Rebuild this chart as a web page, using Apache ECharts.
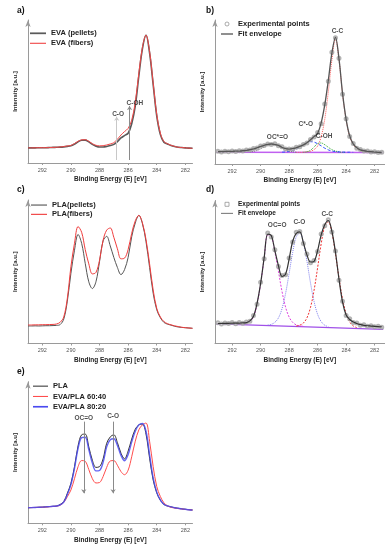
<!DOCTYPE html>
<html><head><meta charset="utf-8">
<script src="https://cdn.jsdelivr.net/npm/echarts@6/dist/echarts.min.js"></script>
<style>html,body{margin:0;padding:0;background:#fff}#c{width:388px;height:550px}</style>
</head><body><div id="c"></div>
<script>
// ---------- DATA (binding energy in eV, intensity in a.u. scaled 0-100) ----------
function eRange(hi, lo){ const o=[]; for(let e=hi; e>=lo-1e-9; e-=0.25) o.push(Math.round(e*100)/100); return o; }
const E_ALL = eRange(293, 281.5);               // 293 ... 281.5 step 0.25
const tickValues = [282, 284, 286, 288, 290, 292];

// a) EVA
const evaPellets = [10.6,10.6,10.6,10.7,10.7, 10.7,10.8,10.9,11.0,11.1, 11.3,11.6,12.0,13.2,14.8, 15.9,16.0,14.8,13.0,11.8, 11.2,11.2,11.6,12.2,13.0, 15.0,17.5,19.2,20.8,27.5, 40,61,80,89.5,77, 55,33,20,14.5,13.3, 12.2,11.5,11.0,10.8,10.6, 10.4,10.3];
const evaFibers  = [10.6,10.6,10.6,10.7,10.7, 10.7,10.8,10.9,11.0,11.2, 11.5,11.9,12.3,13.6,15.2, 16.2,16.3,15.2,13.5,12.4, 12.0,12.1,12.6,13.3,14.2, 16.6,19.6,22.0,24.2,30.0, 42.5,63,81,89.5,78, 56,34,21,15,13.5, 12.4,11.6,11.0,10.8,10.6, 10.4,10.3];
const aMarkE = [286.8, 285.9];            // C-O, C-OH guide lines
const aMarkTop = [32.4, 39.9];
const aLabels = [['C-O', 286.7, 34], ['C-OH', 285.53, 41.7]];

// b) EVA fit
const bPoints   = [8.9,8.4,8.8,8.5,9.0, 8.7,9.2,9.0,9.7,9.8, 10.8,11.1,12.5,12.8,13.9, 13.6,14.0,12.6,11.9,10.4, 10.5,10.4,11.6,12.0,13.6, 14.5,17.1,18.7,21.8,28.0, 41.6,57.4,77.6,87.6,73.5, 48.4,31.5,19.1,14.3,11.0, 10.0,9.0,9.0,8.3,8.5, 7.9,8.2];
const bEnvelope = [8.6,8.6,8.7,8.7,8.8, 8.9,9.0,9.2,9.5,9.9, 10.5,11.3,12.2,13.0,13.6, 13.9,13.7,12.9,11.6,10.6, 10.3,10.6,11.3,12.2,13.3, 14.8,16.8,19.0,21.3,28.5, 41,58,77,88,73, 49,31,19.5,14,11.3, 9.8,9.2,8.8,8.5,8.3, 8.1,8.0];
const bCC_E = eRange(287.5, 282.5);
const bCC   = [8.1,8.1,8.2,8.4,8.8, 10.0,12.5,19,31,50, 72,87,72.5,48.5,30.5, 19,13.5,10.8,9.3,8.6, 8.2];
const bCOH_E = eRange(287, 284);
const bCOH   = [8.2,8.5,9.5,11.8,14.2, 14.6,13.4,11.6,10.0,9.0, 8.4,8.1,8.1];
const bCO_E = eRange(288.5, 283.5);
const bCO   = [8.2,8.4,8.7,9.3,10.4, 11.8,13.4,14.8,15.5,15.2, 14.1,12.6,11.0,9.8,9.0, 8.6,8.4,8.3,8.2,8.2, 8.1];
const bOCO_E = eRange(290.75, 287.5);
const bOCO   = [8.3,8.7,9.4,10.5,11.8, 13.0,13.6,13.3,12.3,11.0, 9.8,9.0,8.5,8.2];
const bBaseE = [293.1, 281.4];
const bBase  = [8.2, 8.0];
const bLabels = [['C-C', 284.61, 92.4], ['C*-O', 286.83, 27.8], ['C-OH', 285.54, 19.4], ['OC*=O', 288.82, 18.5]];

// c) PLA
const plaPellets = [12.2,12.2,12.3,12.2,12.3, 12.4,12.4,12.5,12.6,13.2, 17,29.5,48.9,65,76, 69.8,55.9,43,38.3,43, 57,71.5,74.7,68,60, 53,48,51.5,60,74.4, 84,89.3,83.5,71,53, 35,23.5,18,14.7,13.5, 12.8,12.0,11.5,11.2,11.0, 10.8,10.6];
const plaFibers  = [12.9,12.9,13.0,13.0,13.1, 13.1,13.2,13.3,13.6,14.8, 18.5,31.5,53.5,69.8,81.5, 77.5,65.5,55.5,48.5,49.5, 58,72,79,80.5,74, 66,59,59.5,65.5,76.8, 85.5,89.3,84,72.5,55.5, 37.3,24.5,18.5,15.3,13.8, 13,12.3,11.8,11.3,11, 10.8,10.6];

// d) PLA fit
const dPoints   = [14.5,13.6,14.4,13.9,14.6, 13.8,14.7,14.1,15.0,15.5, 19.6,27.4,42.8,59.3,77.2, 74.4,65.6,53.8,47.5,48.0, 59.8,70.9,77.8,78.3,70.0, 62.6,56.4,58.1,64.4,76.6, 82.4,86.6,77.9,64.6,44.3, 29.6,19.5,17.3,14.6,14.4, 12.8,13.1,12.1,12.5,11.7, 12.0,11.3];
const dEnvelope = [14.0,14.0,14.1,14.1,14.2, 14.2,14.3,14.4,14.6,15.8, 19.0,28,42,60,76.5, 75.5,65,54.5,47,48.5, 59,71.5,77,78,70.5, 62,57,57.5,65,76, 83,86,78.5,64,45, 29,20,16.8,15,14, 13.2,12.7,12.4,12.2,12, 11.8,11.6];
const dOCO_E = eRange(291.5, 287);
const dOCO   = [13.6,13.8,14.2,15.4,18.5, 27.5,41.5,59.5,76,75, 64,50.5,36.5,25.5,18.5, 14.8,13.0,12.3,12.0];
const dCO_E = eRange(289.5, 285.25);
const dCO   = [13.0,13.4,14.8,17.9,24.3, 34.9,49,63.7,74.6,77.3, 70.8,57.6,42.4,29.4,20.4, 15.3,12.8,11.8];
const dCC_E = eRange(287.5, 283.25);
const dCC   = [12.3,12.8,14.3,17.9,25.2, 37.2,53,69.7,82,85.1, 77.7,62.9,45.8,31.1,20.9, 15.1,12.3,11.1];
const dBaseE = [293.1, 281.4];
const dBase  = [13.7, 9.9];
const dLabels = [['OC=O', 288.84, 82.6], ['C-O', 287.28, 84.9], ['C-C', 285.33, 90.7]];

// e) PLA vs blends
const pla      = [11.0,11.1,11.2,11.3,11.4, 11.6,11.8,12.0,12.2,13.3, 15.3,21.2,28.2,40,54.7, 62.5,63,54,44.5,39.5, 40,45.5,56.5,61,62.5, 57,49.5,45.5,51,59.5, 66.5,69.5,70,63,46, 30.6,21.5,16.3,13.3,12.2, 11.6,11.0,10.6,10.2,9.9, 9.6,9.4];
const blend6040 = [11.0,11.1,11.2,11.3,11.4, 11.5,11.7,11.9,12.1,12.8, 14.8,18.8,23.5,31.5,40, 44.3,43.8,38,31.5,28.5, 28.8,33,39.5,44,44.3, 41,36.5,34.3,37.5,47, 58,66,69.5,70.8,58, 40,26,19,14.5,12.3, 11.3,10.8,10.4,10.1,9.8, 9.6,9.4];
const blend8020 = [11.0,11.1,11.2,11.3,11.4, 11.6,11.8,12.0,12.2,13.0, 15.0,20.3,27.3,38.8,53, 60.5,60.8,52,42.5,37, 37.3,43,54,59,59.7, 55,48,44.2,48.5,57.5, 65,69.5,70.5,65,48.5, 32,22,16.5,13.5,12.3, 11.6,11.0,10.6,10.2,9.9, 9.6,9.4];
const eMarkE = [289.1, 287.05];
const eMarkTop = 71.8, eMarkBottom = 21.2;
const eLabels = [['OC=O', 289.1, 74.2], ['C-O', 287.05, 75.3]];

// ---------- CHART ----------
const FONT = '"Liberation Sans", Arial, sans-serif';
function pts(E, v){ return E.map((e,i)=>[e, v[i]]); }
const grids = [
  {left:28,  top:20,    width:164.5, height:143},
  {left:215, top:20,    width:169.6, height:144},
  {left:28,  top:200,   width:164.5, height:143.5},
  {left:215, top:200.5, width:169.6, height:143},
  {left:28,  top:381.7, width:164.5, height:141.6}
];
const xr = [[281.5,293],[281.3,293.2],[281.5,293],[281.3,293.2],[281.5,293]];
const yNames = ['Intensity [a.u.]','Intensity [a.u.]','Intensity [a.u.]','Intensity [a.u.]','Intensity [a.u]'];
const AX = '#9a9a9a';
const xAxis = xr.map((r,i)=>({type:'value', gridIndex:i, min:r[0], max:r[1], inverse:true,
  axisLine:{show:true, onZero:false, lineStyle:{color:AX, width:1}},
  axisTick:{show:true, customValues:tickValues, length:2, lineStyle:{color:AX}},
  axisLabel:{customValues:tickValues, fontSize:5.5, color:'#555', margin:4, fontFamily:FONT},
  splitLine:{show:false},
  name:'Binding Energy (E) [eV]', nameLocation:'middle', nameGap:13,
  nameTextStyle:{fontSize:6.5, fontWeight:'bold', color:'#222', fontFamily:FONT}}));
const yAxis = yNames.map((n,i)=>({type:'value', gridIndex:i, min:0, max:100,
  axisLine:{show:true, onZero:false, symbol:['none','arrow'], symbolSize:[4,7], lineStyle:{color:AX, width:1}},
  axisTick:{show:false}, axisLabel:{show:false}, splitLine:{show:false},
  name:n, nameLocation:'middle', nameGap:10,
  nameTextStyle:{fontSize:6, fontWeight:'bold', color:'#222', fontFamily:FONT}}));

function line(name, gi, data, color, width, extra){
  return Object.assign({type:'line', name, xAxisIndex:gi, yAxisIndex:gi, data, showSymbol:false, symbol:'none',
    smooth:0.35, color, lineStyle:{color, width}, silent:true, z:3}, extra||{});
}
function dotted(name, gi, data, color, type){
  return line(name, gi, data, color, 1, {lineStyle:{color, width:1, type: type||'dotted'}, z:2});
}
function labels(gi, list, size, marks){
  const s = {type:'scatter', name:'_lab'+gi, xAxisIndex:gi, yAxisIndex:gi, symbolSize:1,
    itemStyle:{color:'rgba(0,0,0,0)'}, silent:true, z:5,
    data: list.map(l=>[l[1], l[2], l[0]]),
    label:{show:true, position:'inside', formatter:p=>p.value[2], fontSize:size, fontWeight:'bold', color:'#222', fontFamily:FONT}};
  if (marks) s.markLine = {silent:true, symbol:['none','arrow'], symbolSize:4, animation:false,
    label:{show:false}, data:marks};
  return s;
}
function points(name, gi, E, v){
  return {type:'scatter', name, xAxisIndex:gi, yAxisIndex:gi, data:pts(E,v), symbol:'emptyCircle', symbolSize:3,
    itemStyle:{color:'#a0a0a0', borderWidth:0.6}, silent:true, z:2};
}

const series = [
  // a
  line('EVA (pellets)', 0, pts(E_ALL, evaPellets), '#5a5a5a', 1.6),
  line('EVA (fibers)', 0, pts(E_ALL, evaFibers), '#f04848', 1),
  labels(0, aLabels, 6.5, aMarkE.map((e,i)=>[
    {coord:[e, 2.1], lineStyle:{color: i===0?'#c8c8c8':'#8a8a8a', width:1, type:'solid'}},
    {coord:[e, aMarkTop[i]]}])),
  // b
  points('Experimental points', 1, E_ALL, bPoints),
  line('_bBase', 1, pts(bBaseE, bBase), '#c060f0', 1.4, {smooth:false, z:2}),
  dotted('_bCC', 1, pts(bCC_E, bCC), '#ff5a5a', 'dotted'),
  dotted('_bCOH', 1, pts(bCOH_E, bCOH), '#2fa82f', 'dotted'),
  dotted('_bCO', 1, pts(bCO_E, bCO), '#3050ff', [3,2]),
  dotted('_bOCO', 1, pts(bOCO_E, bOCO), '#777777', 'dotted'),
  line('Fit envelope', 1, pts(E_ALL, bEnvelope), '#555555', 1.3),
  labels(1, bLabels, 6.5),
  // c
  line('PLA(pellets)', 2, pts(E_ALL, plaPellets), '#555555', 1),
  line('PLA(fibers)', 2, pts(E_ALL, plaFibers), '#f03c3c', 1),
  // d
  points('Experimental points', 3, E_ALL, dPoints),
  line('_dBase', 3, pts(dBaseE, dBase), '#a050e8', 1.2, {smooth:false, z:2}),
  dotted('_dOCO', 3, pts(dOCO_E, dOCO), '#e040e0', [2,1.5]),
  dotted('_dCO', 3, pts(dCO_E, dCO), '#8080ee', 'dotted'),
  dotted('_dCC', 3, pts(dCC_E, dCC), '#f03030', [2,1.5]),
  line('Fit envelope', 3, pts(E_ALL, dEnvelope), '#333333', 1.2),
  labels(3, dLabels, 6.5),
  // e
  line('PLA', 4, pts(E_ALL, pla), '#333333', 1),
  line('EVA/PLA 60:40', 4, pts(E_ALL, blend6040), '#ff4d4d', 1),
  line('EVA/PLA 80:20', 4, pts(E_ALL, blend8020), '#4a4af0', 1.4, {lineStyle:{color:'#4a4af0', width:1.4, opacity:0.85}}),
  labels(4, eLabels, 6.5, eMarkE.map(e=>[
    {coord:[e, eMarkTop], lineStyle:{color:'#8a8a8a', width:1, type:'solid'}},
    {coord:[e, eMarkBottom]}]))
];

const LT = {fontSize:7.5, fontWeight:'bold', color:'#222', fontFamily:FONT};
const THIN = 'path://M0,0H20V1.4H0Z', THICK = 'path://M0,0H20V2.2H0Z';
const SQUARE = 'path://M0,0H10V10H0Z';
const MARKER = {color:'#fff', borderColor:'#8a8a8a', borderWidth:0.9};
const legend = [
  {left:30, top:28.3, orient:'vertical', itemGap:0, itemWidth:16, itemHeight:6, padding:0, selectedMode:false,
   textStyle:Object.assign({lineHeight:10}, LT),
   data:[{name:'EVA (pellets)', icon:THICK}, {name:'EVA (fibers)', icon:THIN}]},
  {left:221, top:19, orient:'vertical', itemGap:0, itemWidth:12, itemHeight:4, padding:0, selectedMode:false,
   textStyle:Object.assign({lineHeight:10}, LT),
   data:[{name:'Experimental points', icon:'circle', itemStyle:MARKER},
         {name:'Fit envelope', icon:THICK}]},
  {left:31, top:200.4, orient:'vertical', itemGap:0, itemWidth:16, itemHeight:6, padding:0, selectedMode:false,
   textStyle:Object.assign({lineHeight:9.3}, LT),
   data:[{name:'PLA(pellets)', icon:THIN}, {name:'PLA(fibers)', icon:THIN}]},
  {left:221, top:199.8, orient:'vertical', itemGap:0, itemWidth:12, itemHeight:4, padding:0, selectedMode:false,
   textStyle:Object.assign({}, LT, {fontSize:6.5, lineHeight:9}),
   data:[{name:'Experimental points', icon:SQUARE, itemStyle:MARKER},
         {name:'Fit envelope', icon:THIN}]},
  {left:33, top:381, orient:'vertical', itemGap:0, itemWidth:15, itemHeight:6, padding:0, selectedMode:false,
   textStyle:Object.assign({lineHeight:10.3}, LT),
   data:[{name:'PLA', icon:THIN}, {name:'EVA/PLA 60:40', icon:THIN}, {name:'EVA/PLA 80:20', icon:THICK}]}
];
const TS = {fontSize:8.5, fontWeight:'bold', color:'#111', fontFamily:FONT};
const title = [
  {text:'a)', left:17, top:6.5, padding:0, textStyle:TS},
  {text:'b)', left:206, top:6.5, padding:0, textStyle:TS},
  {text:'c)', left:17, top:185, padding:0, textStyle:TS},
  {text:'d)', left:206, top:185, padding:0, textStyle:TS},
  {text:'e)', left:17, top:367.5, padding:0, textStyle:TS}
];

const chart = echarts.init(document.getElementById('c'), null, {renderer:'canvas'});
chart.setOption({animation:false, backgroundColor:'#fff', textStyle:{fontFamily:FONT},
  title, legend, grid:grids, xAxis, yAxis, series});
</script></body></html>
